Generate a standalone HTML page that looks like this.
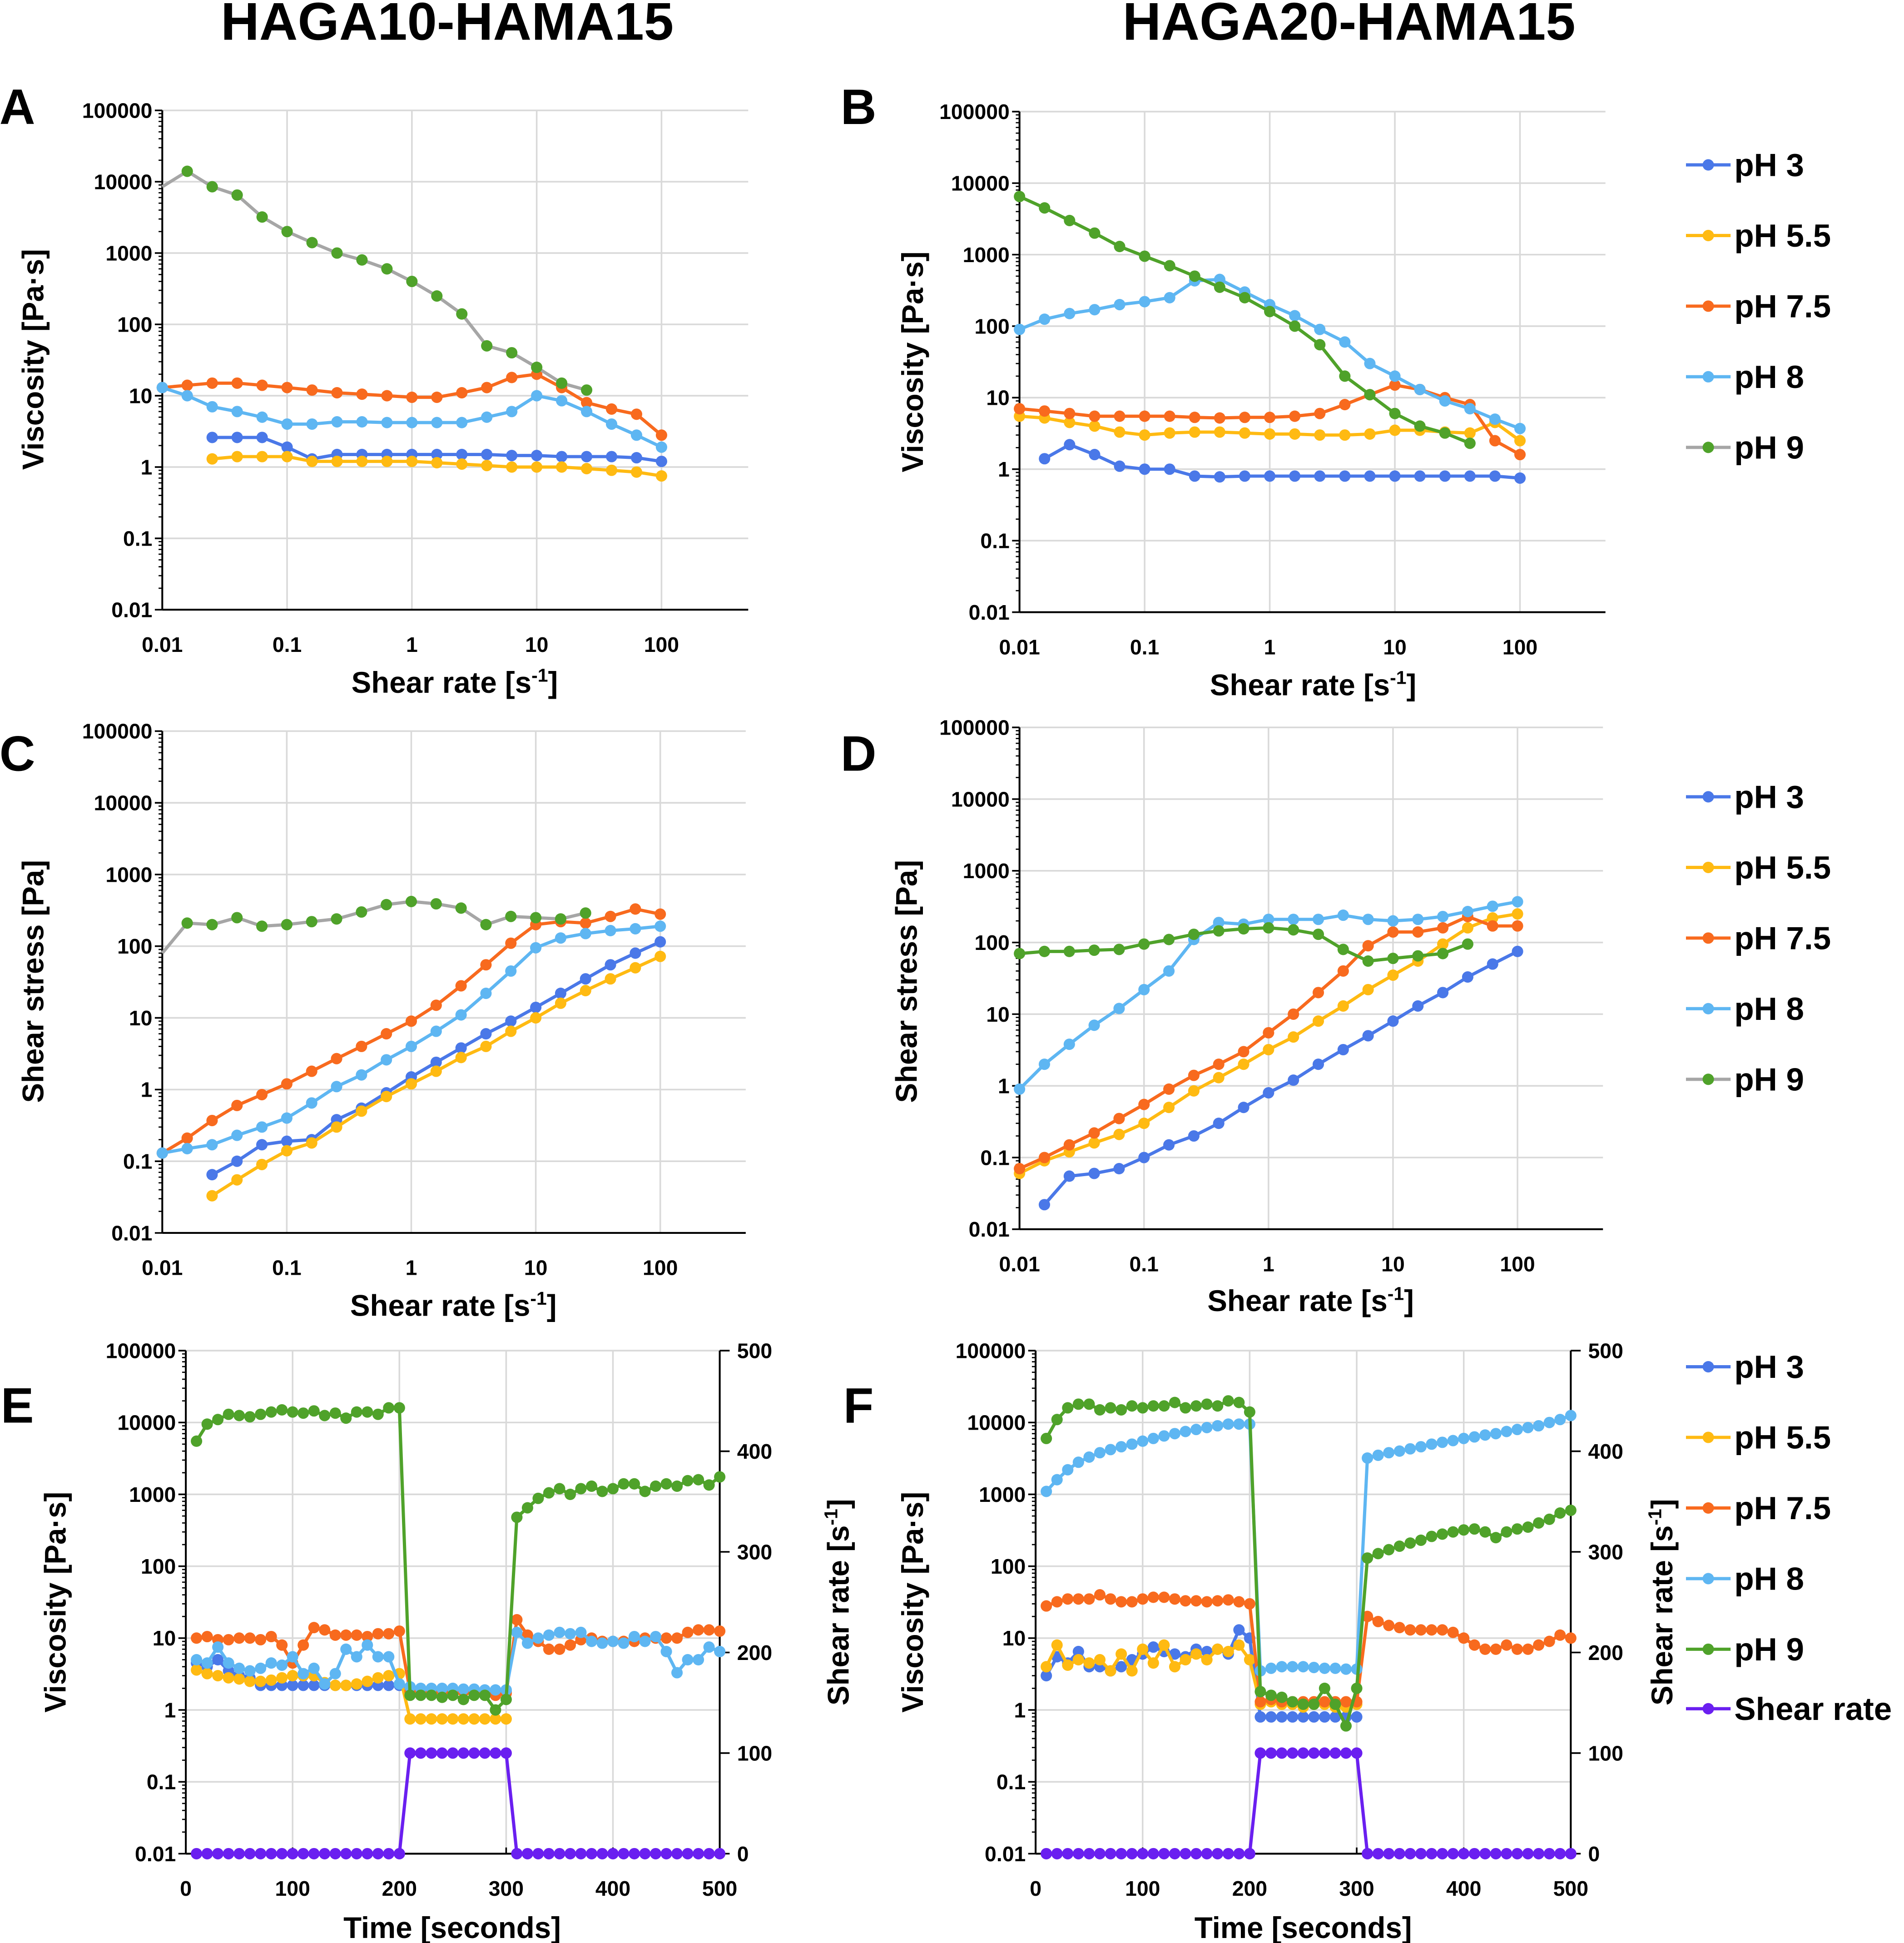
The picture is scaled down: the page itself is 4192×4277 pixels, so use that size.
<!DOCTYPE html>
<html><head><meta charset="utf-8"><style>
html,body{margin:0;padding:0;background:#fff}
svg{display:block}
text{font-family:"Liberation Sans Narrow","Liberation Sans",sans-serif;font-weight:bold;fill:#000}
</style></head><body>
<svg id="chart" width="4192" height="4277" viewBox="0 0 1537 1568" xmlns="http://www.w3.org/2000/svg"></svg>
<script>
// ---------- data ----------
const seriesNames = ["pH 3","pH 5.5","pH 7.5","pH 8","pH 9"];
const colors = ["#4A78E8","#FFBA12","#F86A1E","#5EB6F2","#4FA22A"];
// shear rate index i -> 10^(-2+i/5)
const A_start = [2,2,0,0,0];
const A_pH3 = [2.6,2.6,2.6,1.9,1.3,1.5,1.5,1.5,1.5,1.5,1.5,1.5,1.45,1.45,1.4,1.4,1.4,1.35,1.2];
const A_pH55 = [1.3,1.4,1.4,1.4,1.2,1.2,1.2,1.2,1.2,1.15,1.1,1.05,1.0,1.0,1.0,0.95,0.9,0.85,0.75];
const A_pH75 = [13,14,15,15,14,13,12,11,10.5,10,9.5,9.5,11,13,18,20,13,8,6.5,5.5,2.8];
const A_pH8 = [13,10,7,6,5,4,4,4.3,4.3,4.2,4.2,4.2,4.2,5,6,10,8.5,6,4,2.8,1.9];
const A_pH9 = [8500,14000,8500,6500,3200,2000,1400,1000,800,600,400,250,140,50,40,25,15,12];

const B_start = [1,0,0,0,0];
const B_pH3 = [1.4,2.2,1.6,1.1,1,1,0.8,0.78,0.8,0.8,0.8,0.8,0.8,0.8,0.8,0.8,0.8,0.8,0.8,0.75];
const B_pH55 = [5.5,5.2,4.5,4,3.3,3,3.2,3.3,3.3,3.2,3.1,3.1,3,3,3.1,3.5,3.5,3.3,3.2,4.5,2.5];
const B_pH75 = [7,6.5,6,5.5,5.5,5.5,5.5,5.3,5.2,5.3,5.3,5.5,6,8,11,15,13,10,8,2.5,1.6];
const B_pH8 = [90,125,150,170,200,220,250,430,450,300,200,140,90,60,30,20,13,9,7,5,3.7];
const B_pH9 = [6500,4500,3000,2000,1300,950,700,500,350,250,160,100,55,20,11,6,4,3.2,2.3];

const C_start = [2,2,0,0,0];
const C_pH3 = [0.065,0.1,0.17,0.19,0.2,0.38,0.55,0.9,1.5,2.4,3.8,6,9,14,22,35,55,80,115];
const C_pH55 = [0.033,0.055,0.09,0.14,0.18,0.3,0.5,0.8,1.2,1.8,2.8,4,6.5,10,16,24,35,50,72];
const C_pH75 = [0.13,0.21,0.37,0.6,0.85,1.2,1.8,2.7,4,6,9,15,28,55,110,200,220,210,260,330,280];
const C_pH8 = [0.13,0.15,0.17,0.23,0.3,0.4,0.65,1.1,1.6,2.6,4,6.5,11,22,45,95,130,150,165,175,190];
const C_pH9 = [80,210,200,250,190,200,220,240,300,380,420,390,340,200,260,250,240,290];

const D_start = [1,0,0,0,0];
const D_pH3 = [0.022,0.055,0.06,0.07,0.1,0.15,0.2,0.3,0.5,0.8,1.2,2,3.2,5,8,13,20,33,50,75];
const D_pH55 = [0.06,0.09,0.12,0.16,0.21,0.3,0.5,0.85,1.3,2,3.2,4.8,8,13,22,35,55,95,160,220,250];
const D_pH75 = [0.07,0.1,0.15,0.22,0.35,0.55,0.9,1.4,2,3,5.5,10,20,40,90,140,140,160,230,170,170];
const D_pH8 = [0.9,2,3.8,7,12,22,40,110,190,180,210,210,210,240,210,200,210,230,270,320,370];
const D_pH9 = [70,75,75,78,80,95,110,130,145,155,160,150,130,80,55,60,65,70,95];

// time series: t = 10,20,...
const E_pH3 = [4.5,4,5,3.5,3,2.8,2.2,2.2,2.2,2.2,2.2,2.2,2.2,2.2,2.2,2.2,2.2,2.2,2.2,2.2, 2,1.9,1.9,1.9,1.9,1.8,1.8,1.8,1.8,1.8];
const E_pH55 = [3.6,3.2,3,2.8,2.7,2.5,2.5,2.6,2.8,3,3,3,2.4,2.2,2.2,2.3,2.5,2.8,3,3.2, 0.75,0.75,0.75,0.75,0.75,0.75,0.75,0.75,0.75,0.75];
const E_pH75 = [10,10.5,9.5,9.5,10,10,9.5,10.5,8,4.5,8,14,13,11,11,11,10.5,11.5,11.5,12.5, 1.8,1.8,1.7,1.8,1.7,1.8,1.7,1.7,1.6,1.7, 18,11,9,7,7,8,9.5,10,9,9,9,9,10,10,10,10,12,13,13,12.5];
const E_pH8 = [5,4.5,7.5,4.5,3.8,3.5,3.8,4.5,4.2,5.5,3.2,3.8,2.3,3.2,7,5.5,8,5.5,5.5,2.3, 2.1,2,2,2,2,1.95,1.95,1.9,1.9,1.9, 12,8.5,10,11,12,11.5,12,9,8.5,9,8.5,10.5,9,10.5,6.5,3.3,5,5,7.5,6.5];
const E_pH9 = [5500,9500,11000,13000,12500,12000,13000,14000,15000,14000,13500,14500,12500,13500,11500,14000,14000,13000,16000,16000, 1.6,1.6,1.6,1.5,1.6,1.4,1.6,1.6,1.0,1.4, 480,650,880,1050,1200,1000,1200,1300,1100,1200,1400,1400,1100,1300,1400,1300,1550,1600,1350,1750];

const F_pH3 = [3,5.5,4.5,6.5,4,4,3.5,4,5,6,7.5,6.5,6,5.5,7,6.5,7,6,13,10, 0.8,0.8,0.8,0.8,0.8,0.8,0.8,0.8,0.8,0.8];
const F_pH55 = [4,8,4.2,5,4.5,5,3.5,6,3.5,7,4.5,8,4,5,6,5,7,6.5,8,5, 1.2,1.3,1.2,1.2,1.1,1.2,1.2,1.1,1.1,1.2];
const F_pH75 = [28,32,35,35,35,40,35,32,32,35,37,37,35,33,33,32,33,34,32,30, 1.3,1.4,1.3,1.3,1.3,1.3,1.3,1.3,1.3,1.3, 20,17,15,14,13,13,13,13,12,10,8,7,7,8,7,7,8,9,11,10];
const F_pH8 = [1100,1600,2200,2800,3300,3800,4200,4600,5000,5500,6000,6500,7000,7500,8000,8500,9000,9500,9500,9500, 3.5,3.8,4,4,4,3.9,3.8,3.8,3.7,3.7, 3200,3500,3800,4000,4300,4600,5000,5300,5600,6000,6300,6700,7000,7500,8000,8500,9000,10000,11000,12500];
const F_pH9 = [6000,11000,16000,18000,18000,15000,16000,15000,17000,16000,17000,17000,19000,16000,17000,18000,17000,20000,19000,14000, 1.8,1.6,1.5,1.3,1.2,1.2,2,1.2,0.6,2, 130,150,170,190,210,230,260,280,300,320,330,300,250,300,330,350,400,450,550,600];

const shearRate = [0,0,0,0,0,0,0,0,0,0,0,0,0,0,0,0,0,0,0,0, 100,100,100,100,100,100,100,100,100,100, 0,0,0,0,0,0,0,0,0,0,0,0,0,0,0,0,0,0,0,0];

const yTickLabels = ["0.01","0.1","1","10","100","1000","10000","100000"];
const xLogLabels = ["0.01","0.1","1","10","100"];
const timeTicks = [0,100,200,300,400,500];
const rightTicks = [0,100,200,300,400,500];

// ---------- drawing ----------
const svg = document.getElementById('chart');
const NS = "http://www.w3.org/2000/svg";
function el(tag, attrs, parent){
  const e = document.createElementNS(NS, tag);
  for (const k in attrs) e.setAttribute(k, attrs[k]);
  (parent||svg).appendChild(e);
  return e;
}
function txt(s, x, y, size, anchor, parent, rot){
  const t = el('text', {x:x, y:y, 'font-size':size, 'text-anchor':anchor||'middle'}, parent);
  if (rot) t.setAttribute('transform', `rotate(-90 ${x} ${y})`);
  t.textContent = s;
  return t;
}

function logY(P, v){ return P.yb - (Math.log10(v)+2)*(P.yb-P.yt)/7; }

function drawFrame(P, g){
  for (let d=0; d<=7; d++){
    const y = P.yb - d*(P.yb-P.yt)/7;
    if (d>0) el('line',{x1:P.xl,x2:P.xr,y1:y,y2:y,stroke:'#d9d9d9','stroke-width':1.3},g);
    const tl = txt(yTickLabels[d], P.xl-8, y+6, 17, 'end', g);
    
    
    el('line',{x1:P.xl-6,x2:P.xl,y1:y,y2:y,stroke:'#000','stroke-width':1.3},g);
    if (d<7) for (let m=2;m<10;m++){
      const ym = y - Math.log10(m)*(P.yb-P.yt)/7;
      el('line',{x1:P.xl-3,x2:P.xl,y1:ym,y2:ym,stroke:'#000','stroke-width':1},g);
    }
  }
  if (P.kind==='log'){
    for (let d=0; d<xLogLabels.length; d++){
      const x = P.xl + d*P.dx;
      if (d>0) el('line',{x1:x,x2:x,y1:P.yt,y2:P.yb,stroke:'#d9d9d9','stroke-width':1.3},g);
      const tl = txt(xLogLabels[d], x, P.yb+34, 17, 'middle', g);
      
      
    }
  } else {
    for (const t of timeTicks){
      const x = P.xl + t*(P.xr-P.xl)/500;
      if (t>0 && t<500) el('line',{x1:x,x2:x,y1:P.yt,y2:P.yb,stroke:'#d9d9d9','stroke-width':1.3},g);
      el('line',{x1:x,x2:x,y1:P.yb-5,y2:P.yb,stroke:'#000','stroke-width':1.3},g);
      const tl = txt(String(t), x, P.yb+34, 17, 'middle', g);
      
      
    }
    el('line',{x1:P.xr,x2:P.xr,y1:P.yt,y2:P.yb,stroke:'#000','stroke-width':1.5},g);
    for (const r of rightTicks){
      const y = P.yb - r*(P.yb-P.yt)/500;
      el('line',{x1:P.xr,x2:P.xr+8,y1:y,y2:y,stroke:'#000','stroke-width':1.3},g);
      const tl = txt(String(r), P.xr+14, y+6, 17, 'start', g);
      
      
    }
  }
  el('line',{x1:P.xl,x2:P.xl,y1:P.yt,y2:P.yb,stroke:'#000','stroke-width':1.5},g);
  el('line',{x1:P.xl,x2:P.xr,y1:P.yb,y2:P.yb,stroke:'#000','stroke-width':1.5},g);
}

function drawSeries(P, g, pts, color, lineColor, name, noFirstMarker){
  const sg = el('g',{},g);
  
  
  el('polyline',{points:pts.map(p=>p.join(',')).join(' '),fill:'none',stroke:lineColor||color,'stroke-width':2.6,'stroke-linejoin':'round'},sg);
  pts.forEach((p,i)=>{
    if (noFirstMarker && i===0) return;
    const c = el('circle',{cx:p[0],cy:p[1],r:4.6,fill:color},sg);
    
    
  });
}

function logPanel(P, starts, data){
  const g = el('g',{});
  
  
  drawFrame(P, g);
  data.forEach((arr,s)=>{
    const pts = arr.map((v,i)=>{
      const idx = starts[s]+i;
      const rate = Math.pow(10,-2+idx/5);
      return [P.xl + (Math.log10(rate)+2)*P.dx, logY(P,v)];
    });
    const lc = (s===4 && P.grayPH9) ? '#a6a6a6' : null;
    drawSeries(P, g, pts, colors[s], lc, 'series-'+seriesNames[s].replace(/[ .]/g,''), s===4 && P.grayPH9);
  });
}

function timePanel(P, data){
  const g = el('g',{});
  
  
  drawFrame(P, g);
  const tx = t => P.xl + t*(P.xr-P.xl)/500;
  data.forEach((arr,s)=>{
    const pts = arr.map((v,i)=>[tx(10*(i+1)), logY(P,v)]);
    drawSeries(P, g, pts, colors[s], null, 'series-'+seriesNames[s].replace(/[ .]/g,''));
  });
  const pts = shearRate.map((v,i)=>[tx(10*(i+1)), P.yb - v*(P.yb-P.yt)/500]);
  drawSeries(P, g, pts, '#6A1FF0', null, 'series-shear-rate');
}

logPanel({name:'panel-a',kind:'log',xl:131,xr:604,dx:100.75,yt:89,yb:492,grayPH9:true},A_start,[A_pH3,A_pH55,A_pH75,A_pH8,A_pH9]);
logPanel({name:'panel-b',kind:'log',xl:823,xr:1296,dx:101,yt:90,yb:494},B_start,[B_pH3,B_pH55,B_pH75,B_pH8,B_pH9]);
logPanel({name:'panel-c',kind:'log',xl:131,xr:602,dx:100.5,yt:590,yb:995,grayPH9:true},C_start,[C_pH3,C_pH55,C_pH75,C_pH8,C_pH9]);
logPanel({name:'panel-d',kind:'log',xl:823,xr:1294,dx:100.5,yt:587,yb:992},D_start,[D_pH3,D_pH55,D_pH75,D_pH8,D_pH9]);
timePanel({name:'panel-e',kind:'time',xl:150,xr:581,yt:1090,yb:1496},[E_pH3,E_pH55,E_pH75,E_pH8,E_pH9]);
timePanel({name:'panel-f',kind:'time',xl:836,xr:1268,yt:1090,yb:1496},[F_pH3,F_pH55,F_pH75,F_pH8,F_pH9]);

function label(s,x,y,size,name,rot,anchor){
  const t = txt(s,x,y,size,anchor||'middle',svg,rot);
  
  
  return t;
}
label('HAGA10-HAMA15',361,32,43,'column-title-left');
label('HAGA20-HAMA15',1089,32,43,'column-title-right');
[['A',14,100],['B',693,100],['C',14,622],['D',693,622],['E',14,1148],['F',693,1148]].forEach(p=>label(p[0],p[1],p[2],40,'panel-letter-'+p[0].toLowerCase()));

function rateTitle(x,y,name){
  const t = label('Shear rate [s',x,y,24,name);
  const ts = document.createElementNS(NS,'tspan'); ts.setAttribute('dy','-9'); ts.setAttribute('font-size','15'); ts.textContent='-1'; t.appendChild(ts);
  const ts2 = document.createElementNS(NS,'tspan'); ts2.setAttribute('dy','9'); ts2.textContent=']'; t.appendChild(ts2);
}
rateTitle(367,559,'x-axis-title-a');
rateTitle(1060,561,'x-axis-title-b');
rateTitle(366,1062,'x-axis-title-c');
rateTitle(1058,1058,'x-axis-title-d');
label('Time [seconds]',365,1564,24,'x-axis-title-e');
label('Time [seconds]',1052,1564,24,'x-axis-title-f');
label('Viscosity [Pa·s]',35,290,24,'y-axis-title-a',true);
label('Viscosity [Pa·s]',745,292,24,'y-axis-title-b',true);
label('Shear stress [Pa]',35,792,24,'y-axis-title-c',true);
label('Shear stress [Pa]',740,792,24,'y-axis-title-d',true);
label('Viscosity [Pa·s]',53,1293,24,'y-axis-title-e',true);
label('Viscosity [Pa·s]',745,1293,24,'y-axis-title-f',true);
function rightTitle(x,y,name){
  const t = label('Shear rate [s',x,y,24,name,true);
  const ts = document.createElementNS(NS,'tspan'); ts.setAttribute('dy','-9'); ts.setAttribute('font-size','15'); ts.textContent='-1'; t.appendChild(ts);
  const ts2 = document.createElementNS(NS,'tspan'); ts2.setAttribute('dy','9'); ts2.textContent=']'; t.appendChild(ts2);
}
rightTitle(685,1293,'y2-axis-title-e');
rightTitle(1350,1293,'y2-axis-title-f');

function legend(y0, step, withShear, name){
  const g = el('g',{});
  
  
  const names = seriesNames.slice();
  const cols = colors.slice();
  if (withShear){ names.push('Shear rate'); cols.push('#6A1FF0'); }
  names.forEach((n,i)=>{
    const y = y0 + i*step - (withShear && i===5 ? 9 : 0);
    el('line',{x1:1361,x2:1397,y1:y,y2:y,stroke:(i===4 && !withShear)?'#a6a6a6':cols[i],'stroke-width':2.6},g);
    el('circle',{cx:1379,cy:y,r:4.6,fill:cols[i]},g);
    const t = txt(n,1400,y+9,26,'start',g);
    
    
  });
}
legend(133,57,false,'legend-top');
legend(643,57,false,'legend-middle');
legend(1103,57,true,'legend-bottom');
</script>
</body></html>
